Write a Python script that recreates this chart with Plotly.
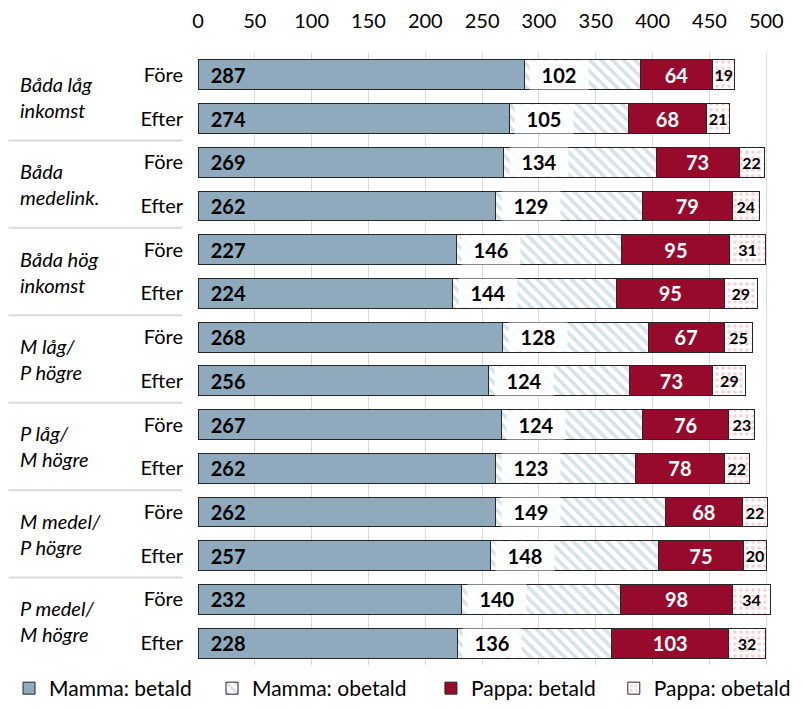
import plotly.graph_objs as go

groups = ["Båda låg<br>inkomst", "Båda<br>medelink.", "Båda hög<br>inkomst",
          "M låg/<br>P högre", "P låg/<br>M högre", "M medel/<br>P högre",
          "P medel/<br>M högre"]
periods = ["Före", "Efter"]

mamma_betald = [287, 274, 269, 262, 227, 224, 268, 256, 267, 262, 262, 257, 232, 228]
mamma_obetald = [102, 105, 134, 129, 146, 144, 128, 124, 124, 123, 149, 148, 140, 136]
pappa_betald = [64, 68, 73, 79, 95, 95, 67, 73, 76, 78, 68, 75, 98, 103]
pappa_obetald = [19, 21, 22, 24, 31, 29, 25, 29, 23, 22, 22, 20, 34, 32]

FONT = "Lato, Calibri, sans-serif"
rows = list(range(len(mamma_betald)))
row_labels = [periods[i % 2] for i in rows]

fig = go.Figure()

bar_line = dict(color="#262626", width=1)
bar_w = 0.68

fig.add_trace(go.Bar(
    y = rows, x = mamma_betald, orientation = "h", width = bar_w,
    name = "Mamma: betald", legend = "legend",
    marker = dict(color = "#8eaabc", line = bar_line),
    text = ["<b>  " + str(v) + "</b>" for v in mamma_betald],
    textposition = "inside", insidetextanchor = "start", textangle = 0,
    textfont = dict(color = "black", size = 20, family = FONT),
    constraintext = "none",
))

fig.add_trace(go.Bar(
    y = rows, x = mamma_obetald, orientation = "h", width = bar_w,
    name = "Mamma: obetald", legend = "legend2",
    marker = dict(color = "white", line = bar_line,
                  pattern = dict(shape = "\\", fgcolor = "#b0c4d1", bgcolor = "white",
                                 size = 8, solidity = 0.45)),
))

fig.add_trace(go.Bar(
    y = rows, x = pappa_betald, orientation = "h", width = bar_w,
    name = "Pappa: betald", legend = "legend3",
    marker = dict(color = "#970a2c", line = bar_line),
    text = ["<b>" + str(v) + "</b>" for v in pappa_betald],
    textposition = "inside", insidetextanchor = "middle", textangle = 0,
    textfont = dict(color = "white", size = 20, family = FONT),
    constraintext = "none",
))

fig.add_trace(go.Bar(
    y = rows, x = pappa_obetald, orientation = "h", width = bar_w,
    name = "Pappa: obetald", legend = "legend4",
    marker = dict(color = "white", line = bar_line,
                  pattern = dict(shape = ".", fgcolor = "#eba6ac", bgcolor = "white",
                                 size = 6, solidity = 0.3)),
    text = ["<b>" + str(v) + "</b>" for v in pappa_obetald],
    textposition = "inside", insidetextanchor = "middle", textangle = 0,
    textfont = dict(color = "black", size = 16, family = FONT),
    constraintext = "none",
))

# labels for Mamma: obetald sit on a white box near the start of the segment
for r in rows:
    fig.add_annotation(
        x = mamma_betald[r], y = r, xref = "x", yref = "y",
        text = "<b>" + str(mamma_obetald[r]) + "</b>",
        showarrow = False, xanchor = "left", xshift = 5,
        width = 56, height = 26, borderpad = 1,
        bgcolor = "rgba(255,255,255,0.9)",
        font = dict(color = "black", size = 20, family = FONT),
    )

# group labels and separators
for g, label in enumerate(groups):
    fig.add_annotation(
        x = -0.313, y = 2 * g + 0.5, xref = "paper", yref = "y",
        text = "<i>" + label + "</i>", showarrow = False,
        xanchor = "left", align = "left",
        font = dict(color = "black", size = 20, family = FONT),
    )
    if g < len(groups) - 1:
        fig.add_shape(
            type = "line", xref = "paper", yref = "y",
            x0 = -0.33, x1 = -0.027, y0 = 2 * g + 1.5, y1 = 2 * g + 1.5,
            line = dict(color = "#d9d9d9", width = 2),
        )

# one single-item legend per series, laid out along the bottom
legend_x = [0.0013, 0.2566, 0.532, 0.762]
legend_style = dict(
    orientation = "h", xref = "container", yref = "container",
    xanchor = "left", y = 0.0, yanchor = "bottom",
    font = dict(size = 21, family = FONT), itemwidth = 30,
)

# page body adds an 8px offset, so the figure is drawn 8px smaller
fig.update_layout(
    width = 795, height = 701,
    barmode = "stack",
    plot_bgcolor = "white",
    paper_bgcolor = "white",
    margin = dict(l = 190, r = 31, t = 45, b = 44),
    font = dict(family = FONT, color = "black", size = 20),
    showlegend = True,
    legend = dict(legend_style, x = legend_x[0]),
    legend2 = dict(legend_style, x = legend_x[1]),
    legend3 = dict(legend_style, x = legend_x[2]),
    legend4 = dict(legend_style, x = legend_x[3]),
)

fig.update_xaxes(
    side = "top", range = [0, 505], automargin = False,
    tickvals = list(range(0, 501, 50)),
    showgrid = True, gridcolor = "#d9d9d9", gridwidth = 1,
    zeroline = False, showline = False, ticks = "",
    ticklabelstandoff = 20,
    tickfont = dict(size = 20, family = FONT),
)

fig.update_yaxes(
    range = [13.5, -0.5], automargin = False,
    tickvals = rows, ticktext = row_labels,
    showgrid = False, zeroline = False, showline = False, ticks = "",
    ticklabelstandoff = 14,
    tickfont = dict(size = 20, family = FONT),
)

fig.write_html("out.html")
